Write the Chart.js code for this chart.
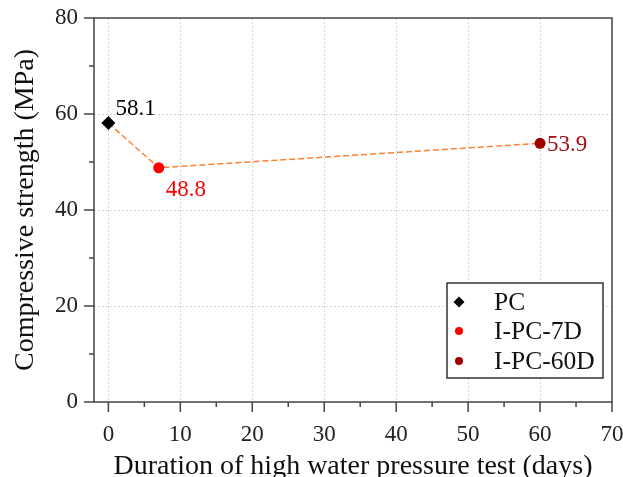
<!DOCTYPE html>
<html><head><meta charset="utf-8">
<script src="https://cdn.jsdelivr.net/npm/chart.js@4/dist/chart.umd.min.js"></script>
<style>html,body{margin:0;padding:0;background:#fff}#wrap{width:623px;height:477px;position:relative}</style>
</head><body><div id="wrap"><canvas id="c"></canvas></div>
<script>
// ---- data ----
const seriesNames = ['PC', 'I-PC-7D', 'I-PC-60D'];
const durationDays = [0, 7, 60];
const strengthMPa = [58.1, 48.8, 53.9];
const xMajorTicks = [0, 10, 20, 30, 40, 50, 60, 70];
const xMinorTicks = [5, 15, 25, 35, 45, 55, 65];
const yMajorTicks = [0, 20, 40, 60, 80];
const yMinorTicks = [10, 30, 50, 70];
const xTitle = 'Duration of high water pressure test (days)';
const yTitle = 'Compressive strength (MPa)';

// ---- styles ----
const FONT = "'Liberation Serif', 'Times New Roman', serif";
const markerColors = ['#000000', '#ff0000', '#a00000'];
const labelColors = ['#000000', '#ff0000', '#a01015'];
const markerStyles = ['rectRot', 'circle', 'circle'];
const markerRadius = [7, 5.5, 5.5];
const labelOffsets = [[7, -14], [7, 22], [7, 2]];

const pointDatasets = seriesNames.map((name, i) => ({
  label: name,
  data: [{x: durationDays[i], y: strengthMPa[i]}],
  pointStyle: markerStyles[i],
  pointRadius: markerRadius[i],
  pointHoverRadius: markerRadius[i],
  backgroundColor: markerColors[i],
  borderColor: markerColors[i],
  borderWidth: 0,
  showLine: false,
  order: 0
}));

const lineDataset = {
  label: '_line',
  data: durationDays.map((x, i) => ({x: x, y: strengthMPa[i]})),
  showLine: true,
  borderColor: '#ff8030',
  borderWidth: 1.5,
  borderDash: [6, 3],
  pointRadius: 0,
  fill: false,
  order: 1
};

const decorPlugin = {
  id: 'decor',
  afterDraw(chart) {
    const ctx = chart.ctx;
    const a = chart.chartArea;
    const xs = chart.scales.x, ys = chart.scales.y;
    ctx.save();
    // frame
    ctx.strokeStyle = '#444';
    ctx.lineWidth = 1.5;
    ctx.strokeRect(a.left, a.top, a.right - a.left, a.bottom - a.top);
    // ticks
    ctx.beginPath();
    xMajorTicks.forEach(v => { const p = xs.getPixelForValue(v); ctx.moveTo(p, a.bottom); ctx.lineTo(p, a.bottom + 10); });
    xMinorTicks.forEach(v => { const p = xs.getPixelForValue(v); ctx.moveTo(p, a.bottom); ctx.lineTo(p, a.bottom + 5); });
    yMajorTicks.forEach(v => { const p = ys.getPixelForValue(v); ctx.moveTo(a.left, p); ctx.lineTo(a.left - 10, p); });
    yMinorTicks.forEach(v => { const p = ys.getPixelForValue(v); ctx.moveTo(a.left, p); ctx.lineTo(a.left - 5, p); });
    ctx.stroke();

    // data labels
    ctx.font = '23px ' + FONT;
    ctx.textBaseline = 'middle';
    ctx.textAlign = 'left';
    seriesNames.forEach((n, i) => {
      const px = xs.getPixelForValue(durationDays[i]);
      const py = ys.getPixelForValue(strengthMPa[i]);
      ctx.fillStyle = labelColors[i];
      ctx.fillText(strengthMPa[i].toFixed(1), px + labelOffsets[i][0], py + labelOffsets[i][1]);
    });

    // legend
    const lx = 447, ly = 283, lw = 156, lh = 95;
    ctx.fillStyle = '#fff';
    ctx.fillRect(lx, ly, lw, lh);
    ctx.strokeStyle = '#333';
    ctx.lineWidth = 1.5;
    ctx.strokeRect(lx, ly, lw, lh);
    const rows = [302, 331, 361];
    seriesNames.forEach((n, i) => {
      const y = rows[i];
      ctx.fillStyle = markerColors[i];
      ctx.beginPath();
      if (markerStyles[i] === 'rectRot') {
        const r = 5.5;
        ctx.moveTo(459, y - r); ctx.lineTo(459 + r, y); ctx.lineTo(459, y + r); ctx.lineTo(459 - r, y); ctx.closePath();
      } else {
        ctx.arc(459, y, 4, 0, Math.PI * 2);
      }
      ctx.fill();
      ctx.fillStyle = '#111';
      ctx.font = '25.5px ' + FONT;
      ctx.fillText(n, 494, y + 1);
    });
    ctx.restore();
  }
};

new Chart(document.getElementById('c'), {
  type: 'scatter',
  data: { datasets: [lineDataset, ...pointDatasets] },
  options: {
    responsive: true,
    maintainAspectRatio: false,
    animation: false,
    layout: { padding: { top: 18, right: 11, left: 0, bottom: 0 } },
    plugins: { legend: { display: false }, tooltip: { enabled: false } },
    scales: {
      x: {
        type: 'linear',
        min: -2, max: 70,
        afterBuildTicks: s => { s.ticks = xMajorTicks.map(v => ({value: v})); },
        afterFit: s => { s.height = 75; s.paddingLeft = 0; s.paddingRight = 0; },
        ticks: { font: { family: FONT, size: 23 }, color: '#222', padding: 19, maxRotation: 0 },
        grid: { color: c => (c.tick && c.tick.value < 70) ? '#d4d4d4' : 'rgba(0,0,0,0)', lineWidth: 1, drawTicks: false },
        border: { display: false, dash: [2, 2] },
        title: { display: true, text: xTitle, font: { family: FONT, size: 28 }, color: '#111', padding: { top: 0, bottom: -6 } }
      },
      y: {
        type: 'linear',
        min: 0, max: 80,
        afterBuildTicks: s => { s.ticks = yMajorTicks.map(v => ({value: v})); },
        afterFit: s => { s.width = 94; s.paddingTop = 0; s.paddingBottom = 0; },
        ticks: { font: { family: FONT, size: 23 }, color: '#222', padding: 16 },
        grid: { color: c => (c.tick && c.tick.value > 0 && c.tick.value < 80) ? '#d4d4d4' : 'rgba(0,0,0,0)', lineWidth: 1, drawTicks: false },
        border: { display: false, dash: [2, 2] },
        title: { display: true, text: yTitle, font: { family: FONT, size: 28 }, color: '#111', padding: { top: 9, bottom: 0 } }
      }
    }
  },
  plugins: [decorPlugin]
});
</script>
</body></html>
